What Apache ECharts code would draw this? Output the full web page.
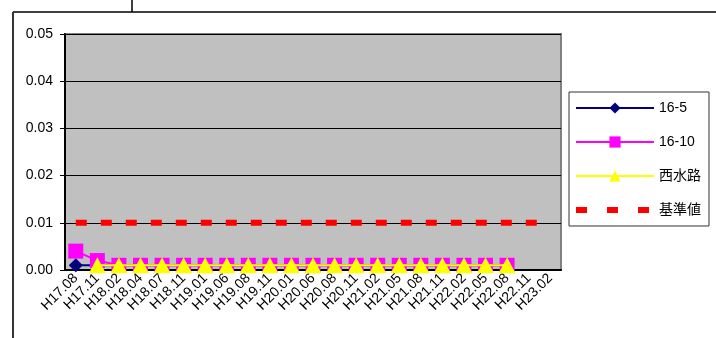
<!DOCTYPE html>
<html><head><meta charset="utf-8">
<script src="https://cdn.jsdelivr.net/npm/echarts@6/dist/echarts.min.js"></script>
<style>html,body{margin:0;padding:0;background:#fff}#c{width:716px;height:338px}</style>
</head><body><div id="c"></div>
<script>
const categories = ['H17.08','H17.11','H18.02','H18.04','H18.07','H18.11','H19.01','H19.06','H19.08','H19.11','H20.01','H20.06','H20.08','H20.11','H21.02','H21.05','H21.08','H21.11','H22.02','H22.05','H22.08','H22.11','H23.02'];
const s16_5 = [0.001,0.001,0.001,0.001,0.001,0.001,0.001,0.001,0.001,0.001,0.001,0.001,0.001,0.001,0.001,0.001,0.001,0.001,0.001,0.001,0.001,null,null];
const s16_10 = [0.004,0.002,0.001,0.001,0.001,0.001,0.001,0.001,0.001,0.001,0.001,0.001,0.001,0.001,0.001,0.001,0.001,0.001,0.001,0.001,0.001,null,null];
const nishisuiro = [null,0.001,0.001,0.001,0.001,0.001,0.001,0.001,0.001,0.001,0.001,0.001,0.001,0.001,0.001,0.001,0.001,0.001,0.001,0.001,0.001,null,null];
const kijun = [0.01,0.01,0.01,0.01,0.01,0.01,0.01,0.01,0.01,0.01,0.01,0.01,0.01,0.01,0.01,0.01,0.01,0.01,0.01,0.01,0.01,0.01,0.01];
const seriesNames = ['16-5','16-10','西水路','基準値'];
const yTicks = [0,0.01,0.02,0.03,0.04,0.05];

const font = '"Liberation Sans", Arial, "Noto Sans CJK JP", sans-serif';
const chart = echarts.init(document.getElementById('c'), null, {renderer:'canvas'});
const dashIcon = 'path://M0 0 M0 4 L11 4 L11 10 L0 10 Z M31 4 L42 4 L42 10 L31 10 Z M62 4 L73 4 L73 10 L62 10 Z M78 14';
chart.setOption({
  animation:false,
  backgroundColor:'#fff',
  textStyle:{fontFamily:font},
  graphic:[
    {type:'line', shape:{x1:13,y1:12,x2:716,y2:12}, style:{stroke:'#000',lineWidth:1.5}},
    {type:'line', shape:{x1:13,y1:12,x2:13,y2:338}, style:{stroke:'#333',lineWidth:2}},
    {type:'line', shape:{x1:132,y1:0,x2:132,y2:12}, style:{stroke:'#000',lineWidth:1.5}}
  ],
  grid:{left:65,right:155,top:34,bottom:68,show:true,backgroundColor:'#C0C0C0',borderColor:'#808080',borderWidth:2},
  legend:{
    orient:'vertical', left:569, top:92,
    padding:[9,8,9,6], itemGap:20, itemWidth:78, itemHeight:14,
    borderColor:'#333', borderWidth:1, backgroundColor:'#fff',
    textStyle:{fontSize:14,color:'#000',fontFamily:font},
    data:[seriesNames[0],seriesNames[1],seriesNames[2],{name:seriesNames[3],icon:dashIcon}]
  },
  xAxis:{
    type:'category', data:categories, boundaryGap:true,
    axisLine:{lineStyle:{color:'#000',width:2}},
    axisTick:{inside:true,length:4,lineStyle:{color:'#000'}},
    axisLabel:{rotate:45,fontSize:14,color:'#000',margin:6,interval:0,fontFamily:font},
    splitLine:{show:false}
  },
  yAxis:{
    type:'value', min:yTicks[0], max:yTicks[yTicks.length-1], interval:0.01,
    axisLine:{show:true,lineStyle:{color:'#000',width:2}},
    axisTick:{show:true,length:5,lineStyle:{color:'#000'}},
    axisLabel:{fontSize:14,color:'#000',margin:12,formatter:v=>v.toFixed(2),fontFamily:font},
    splitLine:{show:true,lineStyle:{color:'#000',width:1}}
  },
  series:[
    {name:seriesNames[0],type:'line',data:s16_5,symbol:'diamond',symbolSize:14,showAllSymbol:true,
     lineStyle:{color:'#000080',width:2},itemStyle:{color:'#000080'},z:3},
    {name:seriesNames[1],type:'line',data:s16_10,symbol:'rect',symbolSize:15,showAllSymbol:true,
     lineStyle:{color:'#FF00FF',width:2},itemStyle:{color:'#FF00FF'},z:4},
    {name:seriesNames[2],type:'line',data:nishisuiro,symbol:'triangle',symbolSize:[17,16],showAllSymbol:true,
     lineStyle:{color:'#FFFF00',width:2},itemStyle:{color:'#FFFF00'},z:5},
    {name:seriesNames[3],type:'line',data:kijun,showSymbol:false,symbol:'none',
     lineStyle:{color:'#FF0000',width:6,type:[11,14],cap:'butt'},itemStyle:{color:'#FF0000'},z:2}
  ]
});
</script></body></html>
